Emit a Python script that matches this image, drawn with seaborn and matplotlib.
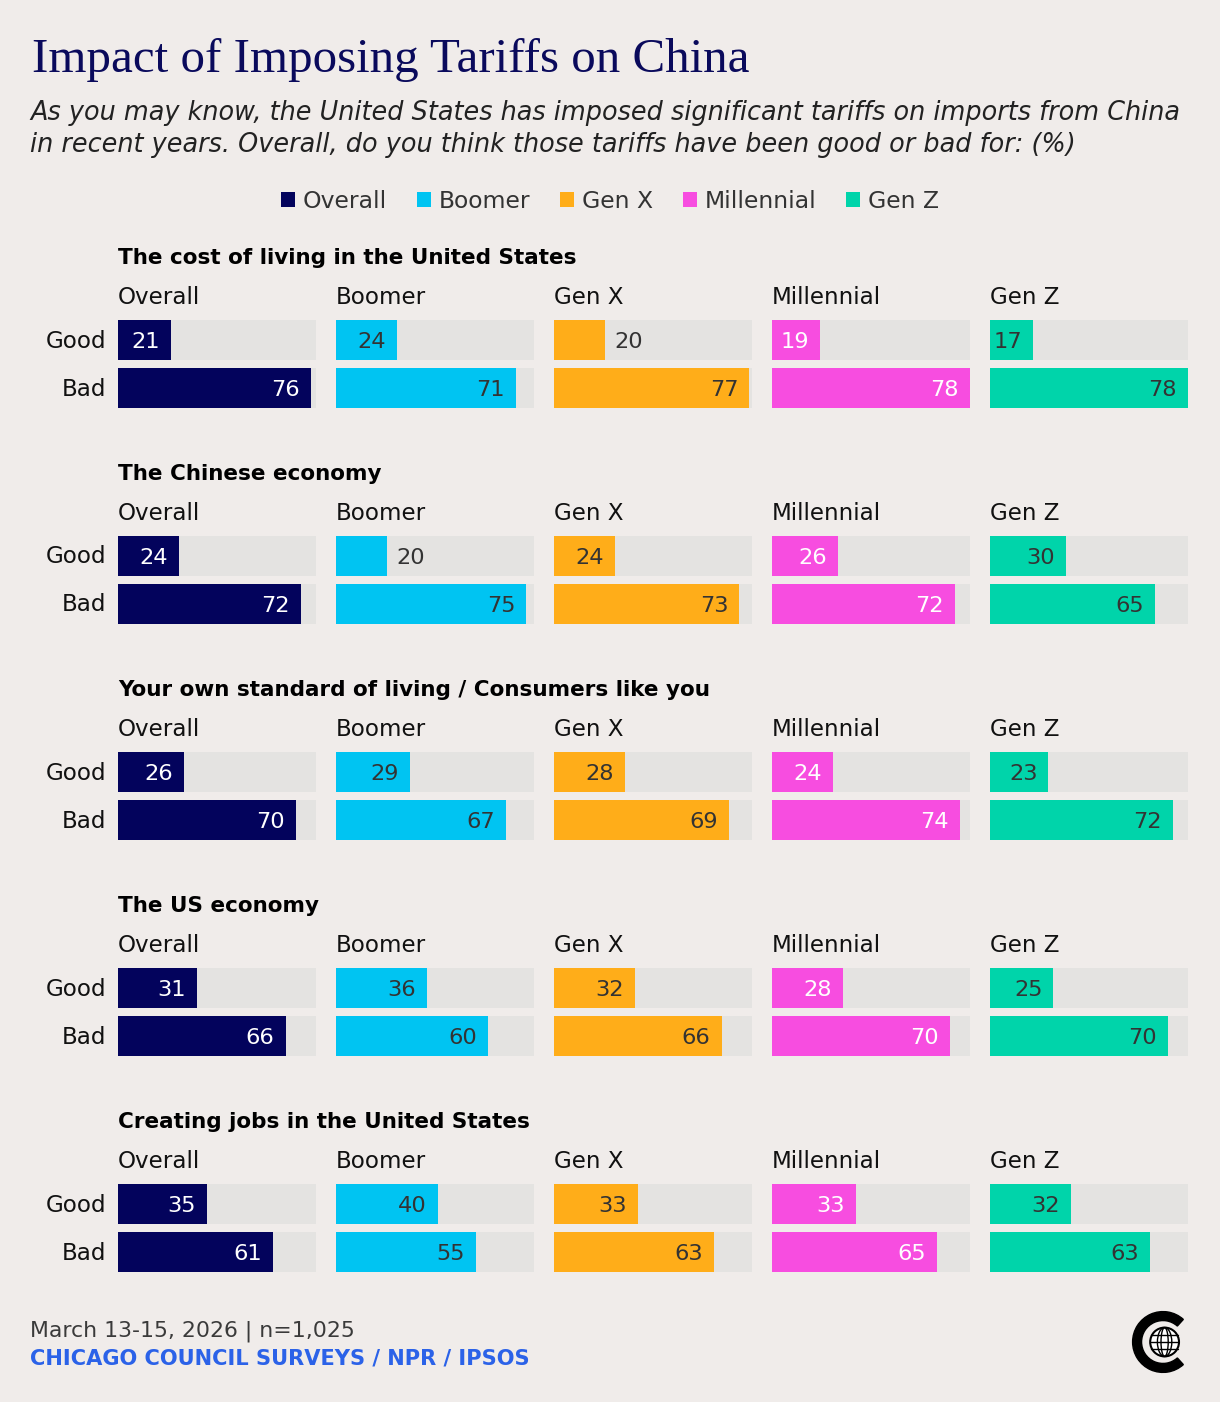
"""
Impact of imposing tariffs on China - good/bad by generation
"""
import matplotlib
matplotlib.use("Agg")
import matplotlib.pyplot as plt
from matplotlib.patches import Patch, Wedge, Circle, Ellipse
import seaborn as sns

TOPICS = ["The cost of living in the United States",
          "The Chinese economy",
          "Your own standard of living / Consumers like you",
          "The US economy",
          "Creating jobs in the United States"]
GROUPS = ["Overall", "Boomer", "Gen X", "Millennial", "Gen Z"]
ANSWERS = ["Good", "Bad"]

GOOD = [[21, 24, 20, 19, 17],
        [24, 20, 24, 26, 30],
        [26, 29, 28, 24, 23],
        [31, 36, 32, 28, 25],
        [35, 40, 33, 33, 32]]
BAD = [[76, 71, 77, 78, 78],
       [72, 75, 73, 72, 65],
       [70, 67, 69, 74, 72],
       [66, 60, 66, 70, 70],
       [61, 55, 63, 65, 63]]

# labels that don't fit in their bar in the original (topic, group, answer)
OUTSIDE = {(0, 2, 0), (1, 1, 0)}

COLORS = ["#03035c", "#00c4f2", "#ffad19", "#f74de0", "#00d4aa"]
INSIDE_TEXT = ["white", "#333333", "#333333", "white", "#333333"]
BG = "#f0ecea"
TRACK = "#e4e3e1"
DARK = "#333333"

W, H = 1220, 1402
sns.set_style("white")
plt.rcParams["font.family"] = ["DejaVu Sans"]

fig = plt.figure(figsize=(W / 100, H / 100), dpi=100, facecolor=BG)


def fx(x):
    return x / W


def fy(y):
    return 1 - y / H


def px(p):
    return p * 0.72


# header
fig.text(fx(32), fy(72), "Impact of Imposing Tariffs on China", family="Liberation Serif",
         fontsize=px(49), color="#0a0a5c", va="baseline", ha="left")
fig.text(fx(30), fy(113), "As you may know, the United States has imposed significant tariffs on imports from China",
         fontsize=px(25.5), style="italic", color="#222222", va="center")
fig.text(fx(30), fy(145), "in recent years. Overall, do you think those tariffs have been good or bad for: (%)",
         fontsize=px(25.5), style="italic", color="#222222", va="center")

handles = [Patch(facecolor=c, edgecolor="none", label=g) for g, c in zip(GROUPS, COLORS)]
fig.legend(handles=handles, loc="center", bbox_to_anchor=(fx(610), fy(201)), ncol=5, frameon=False,
           fontsize=px(23.5), handlelength=0.6, handleheight=0.6, handletextpad=0.35,
           columnspacing=1.25, labelcolor=DARK)

xmax = max(max(r) for r in GOOD + BAD)
col_x = [118, 336, 554, 772, 990]
col_w = 198
half = 20 / 48

for t, topic in enumerate(TOPICS):
    top = 256 + 216 * t
    fig.text(fx(118), fy(top + 2), topic, fontsize=px(21.5), weight="bold", color="black", va="center")
    for g, group in enumerate(GROUPS):
        fig.text(fx(col_x[g]), fy(top + 42), group, fontsize=px(23), color="#111111", va="center")
        ax = fig.add_axes([fx(col_x[g]), fy(top + 152), col_w / W, 88 / H])
        ax.set_facecolor("none")
        vals = [GOOD[t][g], BAD[t][g]]
        sns.barplot(x=[xmax, xmax], y=ANSWERS, orient="h", color=TRACK, width=2 * half,
                    linewidth=0, saturation=1, ax=ax)
        sns.barplot(x=vals, y=ANSWERS, orient="h", color=COLORS[g], width=2 * half,
                    linewidth=0, saturation=1, ax=ax)
        ax.set_xlim(0, xmax)
        ax.set_ylim(1 + half, -half)
        ax.axis("off")
        for i, v in enumerate(vals):
            if (t, g, i) in OUTSIDE:
                ax.annotate(str(v), (v, i), xytext=(px(10), -px(2)), textcoords="offset points",
                            ha="left", va="center", fontsize=px(22.5), color=DARK)
            else:
                ax.annotate(str(v), (v, i), xytext=(-px(11), -px(2)), textcoords="offset points",
                            ha="right", va="center", fontsize=px(22.5), color=INSIDE_TEXT[g])
        if g == 0:
            for i, a in enumerate(ANSWERS):
                fig.text(fx(106), fy(top + 85 + 48 * i), a, fontsize=px(23), color="#111111",
                         ha="right", va="center")

# footer
fig.text(fx(30), fy(1331), "March 13-15, 2026 | n=1,025", fontsize=px(22), color="#3a3a3a",
         va="center")
fig.text(fx(30), fy(1359), "CHICAGO COUNCIL SURVEYS / NPR / IPSOS", fontsize=px(21),
         color="#2b62e8", weight="bold", va="center")

lax = fig.add_axes([fx(1131), fy(1374), 64 / W, 64 / H])
lax.set_xlim(-1, 1)
lax.set_ylim(-1, 1)
lax.set_aspect("equal")
lax.axis("off")
lax.add_patch(Wedge((0, 0), 0.95, 48, 312, width=0.28, color="black"))
lax.add_patch(Circle((0.05, 0), 0.45, facecolor="white", edgecolor="black", lw=1.5))
for w in (0.9, 0.45):
    lax.add_patch(Ellipse((0.05, 0), w * 0.5, 0.9, fill=False, edgecolor="black", lw=1))
for yy in (-0.22, 0, 0.22):
    lax.plot([-0.38, 0.48], [yy, yy], color="black", lw=1)

fig.savefig("out.png", dpi=100, facecolor=BG)
